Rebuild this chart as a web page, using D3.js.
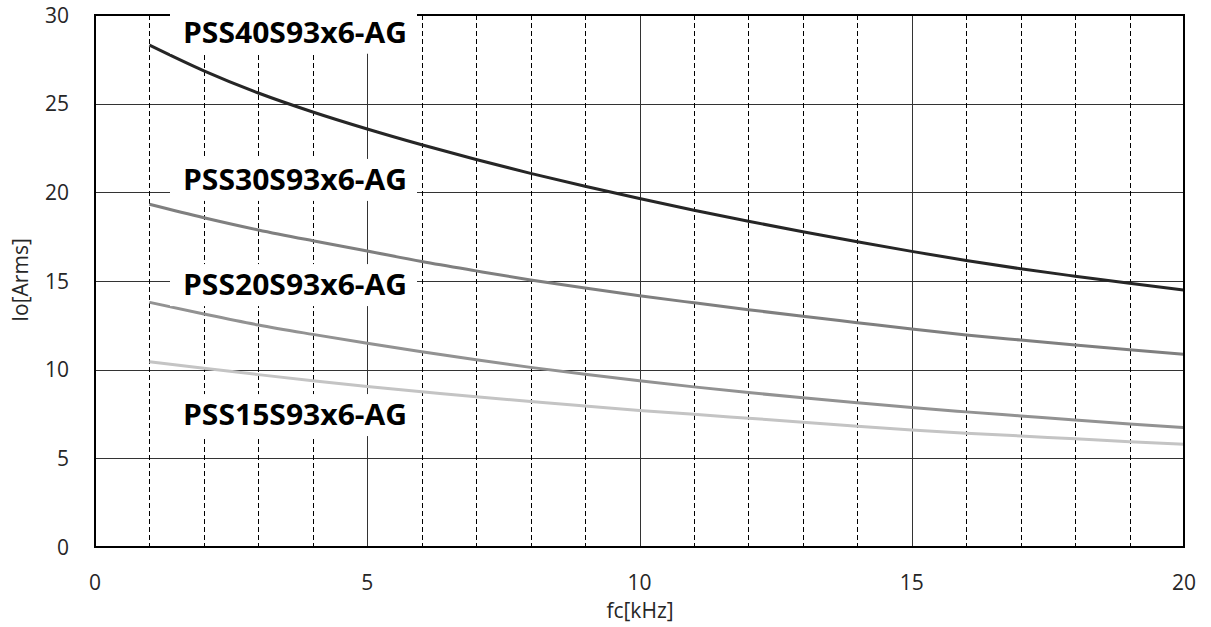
<!DOCTYPE html>
<html><head><meta charset="utf-8">
<script src="https://cdn.jsdelivr.net/npm/d3@7"></script>
<style>body{margin:0;background:#fff}</style>
</head><body>
<script>
const freqs = [1,2,3,4,5,6,7,8,9,10,11,12,13,14,15,16,17,18,19,20];
const pss40 = [28.3,26.85,25.6,24.53,23.57,22.68,21.85,21.07,20.34,19.65,18.99,18.37,17.78,17.21,16.67,16.16,15.69,15.27,14.87,14.49];
const pss30 = [19.33,18.57,17.88,17.27,16.69,16.1,15.57,15.06,14.6,14.17,13.77,13.38,13.01,12.65,12.29,11.96,11.67,11.39,11.12,10.87];
const pss20 = [13.8,13.14,12.52,11.99,11.49,11.01,10.56,10.13,9.74,9.37,9.03,8.71,8.41,8.13,7.86,7.62,7.39,7.16,6.94,6.73];
const pss15 = [10.45,10.08,9.72,9.38,9.05,8.76,8.47,8.2,7.95,7.7,7.48,7.26,7.04,6.81,6.6,6.42,6.26,6.1,5.94,5.79];
const seriesNames = ["PSS40S93x6-AG","PSS30S93x6-AG","PSS20S93x6-AG","PSS15S93x6-AG"];
const labelYValues = [29.0, 20.7, 14.77, 7.44];
const xTicks = [0,5,10,15,20];
const yTicks = [0,5,10,15,20,25,30];
const xTitle = "fc[kHz]";
const yTitle = "Io[Arms]";

const W = 1211, H = 627;
const svg = d3.select("body").append("svg").attr("width", W).attr("height", H);
const x = d3.scaleLinear().domain([0,20]).range([95,1184]);
const y = d3.scaleLinear().domain([0,30]).range([547,15]);
const font = "'Open Sans', 'Noto Sans', sans-serif";

// horizontal gridlines
svg.append("g").selectAll("line").data(yTicks.filter(d=>d>0 && d<30)).join("line")
  .attr("x1", x(0)).attr("x2", x(20)).attr("y1", d=>Math.round(y(d))+0.5).attr("y2", d=>Math.round(y(d))+0.5)
  .attr("stroke","#333").attr("stroke-width",1);
// vertical gridlines
const vmin = d3.range(1,20);
svg.append("g").selectAll("line").data(vmin).join("line")
  .attr("x1", d=>Math.round(x(d))+0.5).attr("x2", d=>Math.round(x(d))+0.5)
  .attr("y1", y(30)).attr("y2", y(0))
  .attr("stroke", d=> d%5===0 ? "#333" : "#000")
  .attr("stroke-width",1)
  .attr("stroke-dasharray", d=> d%5===0 ? null : "5,3");

// series
const allSeries = [pss40, pss30, pss20, pss15];
const colors = ["#262626","#7f7f7f","#929292","#c4c4c4"];
const line = d3.line().x((d,i)=>x(freqs[i])).y(d=>y(d)).curve(d3.curveMonotoneX);
allSeries.forEach((s,i)=>{
  svg.append("path").datum(s).attr("d", line).attr("fill","none")
    .attr("stroke", colors[i]).attr("stroke-width",3);
});

// label background boxes + labels
const labelG = svg.append("g");
seriesNames.forEach((n,i)=>{
  const cy = y(labelYValues[i]);
  labelG.append("rect").attr("x",170).attr("y",cy-21).attr("width",247).attr("height",42).attr("fill","#fff");
});

// plot border
svg.append("rect").attr("x",x(0)).attr("y",y(30)).attr("width",x(20)-x(0)).attr("height",y(0)-y(30))
  .attr("fill","none").attr("stroke","#000").attr("stroke-width",2);

seriesNames.forEach((n,i)=>{
  const cy = y(labelYValues[i]);
  labelG.append("text").attr("x",183).attr("y",cy+10)
    .attr("font-family",font).attr("font-weight","bold").attr("font-size",28)
    .attr("textLength",224).attr("lengthAdjust","spacingAndGlyphs")
    .attr("fill","#000").text(n);
});
// keep label boxes above border lines
svg.node().appendChild(labelG.node());

// axis tick labels
svg.append("g").selectAll("text").data(yTicks).join("text")
  .attr("x",69).attr("y",d=>y(d)).attr("dy","0.36em").attr("text-anchor","end")
  .attr("font-family",font).attr("font-size",21).attr("fill","#262626").text(d=>d);
svg.append("g").selectAll("text").data(xTicks).join("text")
  .attr("x",d=>x(d)).attr("y",582).attr("dy","0.36em").attr("text-anchor","middle")
  .attr("font-family",font).attr("font-size",21).attr("fill","#262626").text(d=>d);

svg.append("text").attr("x",x(10)+0.5).attr("y",611).attr("dy","0.35em").attr("text-anchor","middle")
  .attr("font-family",font).attr("font-size",21).attr("fill","#262626").text(xTitle);
svg.append("text").attr("transform","translate(21,"+280+") rotate(-90)").attr("dy","0.35em")
  .attr("text-anchor","middle").attr("font-family",font).attr("font-size",21).attr("fill","#262626").text(yTitle);
</script>
</body></html>
